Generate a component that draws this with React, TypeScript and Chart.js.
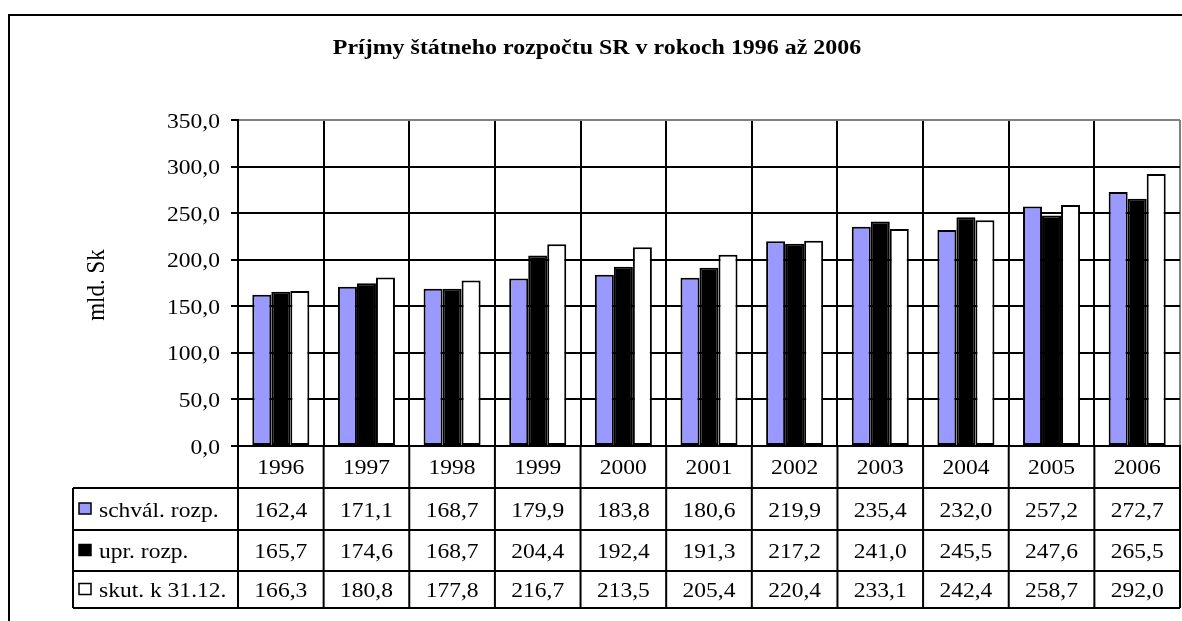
import React, { useEffect, useRef } from 'react';
import { Chart, registerables } from 'chart.js';

Chart.register(...registerables);

const FONT = '"Liberation Serif", "Times New Roman", serif';
const TITLE = 'Príjmy štátneho rozpočtu SR v rokoch 1996 až 2006';
const Y_TITLE = 'mld. Sk';

const years = ['1996', '1997', '1998', '1999', '2000', '2001', '2002', '2003', '2004', '2005', '2006'];
const schval = [162.4, 171.1, 168.7, 179.9, 183.8, 180.6, 219.9, 235.4, 232.0, 257.2, 272.7];
const upr = [165.7, 174.6, 168.7, 204.4, 192.4, 191.3, 217.2, 241.0, 245.5, 247.6, 265.5];
const skut = [166.3, 180.8, 177.8, 216.7, 213.5, 205.4, 220.4, 233.1, 242.4, 258.7, 292.0];
const seriesNames = ['schvál. rozp.', 'upr. rozp.', 'skut. k 31.12.'];
const seriesColors = ['#9999FF', '#000000', '#FFFFFF'];
const Y_MIN = 0;
const Y_MAX = 350;
const Y_STEP = 50;

const fmt = (v: number) => v.toFixed(1).replace('.', ',');

function txt(ctx: CanvasRenderingContext2D, s: string, x: number, y: number, align: CanvasTextAlign, font: string, sx = 1.12) {
  ctx.save();
  ctx.font = font;
  ctx.fillStyle = '#000';
  ctx.textAlign = align;
  ctx.textBaseline = 'alphabetic';
  ctx.translate(x, y);
  ctx.scale(sx, 1);
  ctx.fillText(s, 0, 0);
  ctx.restore();
}

const tablePlugin = {
  id: 'tablePlugin',
  afterDraw(chart: any) {
    const { ctx, chartArea: a, scales } = chart;
    const x = scales.x;
    const y = scales.y;
    ctx.save();
    // outer frame
    ctx.strokeStyle = '#000';
    ctx.lineWidth = 2;
    ctx.beginPath();
    ctx.moveTo(9, 700);
    ctx.lineTo(9, 15);
    ctx.lineTo(1300, 15);
    ctx.stroke();

    // title
    txt(ctx, TITLE, 597, 54, 'center', `bold 21px ${FONT}`, 1.14);

    // y title
    ctx.save();
    ctx.translate(97, 285);
    ctx.scale(1.12, 1);
    ctx.rotate(-Math.PI / 2);
    ctx.font = `23px ${FONT}`;
    ctx.fillStyle = '#000';
    ctx.textAlign = 'center';
    ctx.textBaseline = 'middle';
    ctx.fillText(Y_TITLE, 0, 0);
    ctx.restore();

    // y tick labels
    y.ticks.forEach((t: any) => {
      const py = y.getPixelForValue(t.value);
      txt(ctx, fmt(t.value), a.left - 18, py + 7.5, 'right', `21px ${FONT}`);
    });

    // data table
    const n = years.length;
    const w = (a.right - a.left) / n;
    const rows = [a.bottom, a.bottom + 42, a.bottom + 84, a.bottom + 125, a.bottom + 162];
    const legendLeft = 73;
    ctx.strokeStyle = '#000';
    ctx.lineWidth = 2;
    ctx.beginPath();
    for (let r = 1; r < rows.length; r++) {
      ctx.moveTo(legendLeft, rows[r]);
      ctx.lineTo(a.right, rows[r]);
    }
    ctx.moveTo(legendLeft, rows[1]);
    ctx.lineTo(legendLeft, rows[4]);
    for (let i = 0; i <= n; i++) {
      const px = a.left + i * w;
      ctx.moveTo(px, a.bottom);
      ctx.lineTo(px, rows[4]);
    }
    ctx.stroke();

    years.forEach((yr, i) => {
      const cx = x.getPixelForValue(i);
      txt(ctx, yr, cx, (rows[0] + rows[1]) / 2 + 7, 'center', `21px ${FONT}`);
    });

    chart.data.datasets.forEach((ds: any, s: number) => {
      const cy = (rows[s + 1] + rows[s + 2]) / 2;
      ctx.fillStyle = seriesColors[s];
      ctx.fillRect(79, cy - 6, 12, 11);
      ctx.strokeStyle = '#000';
      ctx.lineWidth = 1.5;
      ctx.strokeRect(79, cy - 6, 12, 11);
      txt(ctx, seriesNames[s], 99, cy + 7.5, 'left', `21px ${FONT}`);
      (ds.data as number[]).forEach((v, i) => {
        const cx = x.getPixelForValue(i);
        txt(ctx, fmt(v), cx, cy + 7.5, 'center', `21px ${FONT}`);
      });
    });
    ctx.restore();
  },
};

export default function App() {
  const ref = useRef<HTMLCanvasElement | null>(null);
  useEffect(() => {
    if (!ref.current) return;
    const chart = new Chart(ref.current, {
      type: 'bar',
      data: {
        labels: years,
        datasets: [
          { label: seriesNames[0], data: schval, backgroundColor: seriesColors[0], borderColor: '#000', borderWidth: 2, borderSkipped: false },
          { label: seriesNames[1], data: upr, backgroundColor: seriesColors[1], borderColor: '#000', borderWidth: 2, borderSkipped: false },
          { label: seriesNames[2], data: skut, backgroundColor: seriesColors[2], borderColor: '#000', borderWidth: 2, borderSkipped: false },
        ],
      },
      options: {
        responsive: false,
        animation: false,
        events: [],
        layout: { padding: { left: 0, top: 120, right: 2, bottom: 0 } },
        datasets: { bar: { categoryPercentage: 0.666, barPercentage: 1.0 } },
        plugins: { legend: { display: false }, title: { display: false }, tooltip: { enabled: false } },
        scales: {
          x: {
            position: 'bottom',
            offset: true,
            ticks: { display: false },
            grid: {
              offset: true,
              drawTicks: false,
              lineWidth: 2,
              color: (c: any) => (c.type === 'scale' ? '#808080' : '#000'),
            },
            border: { color: '#000', width: 2 },
            afterFit: (s: any) => { s.height = 175; },
          },
          y: {
            min: Y_MIN,
            max: Y_MAX,
            ticks: { stepSize: Y_STEP, display: false },
            grid: {
              lineWidth: 2,
              tickLength: 7,
              tickColor: '#000',
              color: (c: any) => (c.tick && c.tick.value === Y_MAX ? '#808080' : '#000'),
            },
            border: { color: '#000', width: 2 },
            afterFit: (s: any) => { s.width = 238; },
          },
        },
      },
      plugins: [tablePlugin],
    } as any);
    return () => chart.destroy();
  }, []);
  return (
    <div style={{ position: 'fixed', left: 0, top: 0, width: 1182, height: 621, background: '#fff' }}>
      <canvas ref={ref} width={1182} height={621} style={{ display: 'block' }} />
    </div>
  );
}
